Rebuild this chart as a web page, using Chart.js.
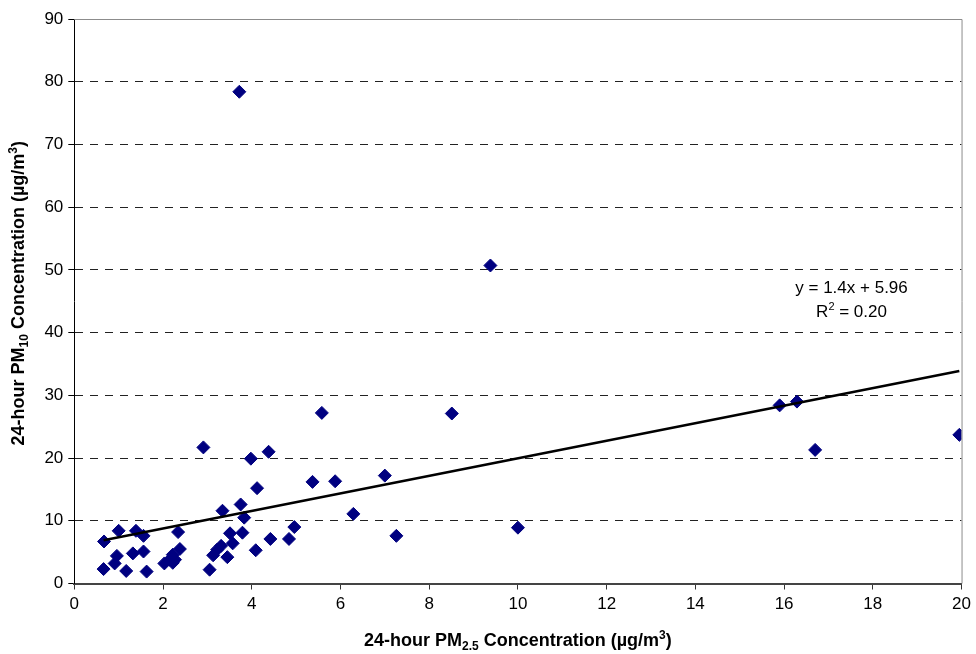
<!DOCTYPE html>
<html>
<head>
<meta charset="utf-8">
<script src="https://cdn.jsdelivr.net/npm/chart.js@4.4.1/dist/chart.umd.min.js"></script>
<style>
  html, body { margin: 0; padding: 0; background: #fff; }
  #c { display: block; }
</style>
</head>
<body>
<canvas id="c" width="976" height="654"></canvas>
<script>
// PM2.5 (x) values, µg/m3
const pm25 = [0.67, 0.66, 0.91, 0.96, 1.0, 1.17, 1.32, 1.39, 1.56, 1.56, 1.63,
  2.03, 2.15, 2.22, 2.22, 2.27, 2.34, 2.38, 2.91, 3.05, 3.13, 3.22, 3.31, 3.34,
  3.45, 3.51, 3.57, 3.72, 3.75, 3.79, 3.83, 3.98, 4.09, 4.12, 4.38, 4.42, 4.84,
  4.96, 5.37, 5.58, 5.88, 6.29, 7.0, 7.26, 8.51, 9.38, 10.0, 15.9, 16.29, 16.7, 19.95];
// PM10 (y) values, µg/m3
const pm10 = [6.7, 2.3, 3.2, 4.4, 8.4, 2.0, 4.8, 8.4, 7.6, 5.1, 1.9,
  3.2, 3.8, 3.3, 4.6, 3.8, 8.2, 5.5, 21.7, 2.2, 4.5, 5.4, 6.0, 11.6,
  4.2, 8.0, 6.4, 78.4, 12.6, 8.1, 10.5, 19.9, 5.3, 15.2, 21.0, 7.1, 7.1,
  9.0, 16.2, 27.2, 16.3, 11.1, 17.2, 7.6, 27.1, 50.7, 8.9, 28.4, 29.0, 21.3, 23.7];
// linear trend: [slope, intercept]
const trend = [1.4, 5.96];
const xTicks = [0, 2, 4, 6, 8, 10, 12, 14, 16, 18, 20];
const yTicks = [0, 10, 20, 30, 40, 50, 60, 70, 80, 90];
const eqLines = ["y = 1.4x + 5.96", "R2 = 0.20"];

const FONT = "'Liberation Sans', Arial, sans-serif";

const points = pm25.map((x, i) => ({ x: x, y: pm10[i] }));
const xMin = Math.min(...pm25), xMax = Math.max(...pm25);
const trendPts = [xMin, xMax].map(x => ({ x: x, y: trend[0] * x + trend[1] }));

function drawRich(ctx, segs, size, bold, cx, cy) {
  // segs: [text, mode] mode: 0 normal, 1 sub, 2 sup
  const w = bold ? 'bold ' : '';
  const small = Math.round(size * 0.65);
  let total = 0;
  segs.forEach(s => {
    ctx.font = w + (s[1] ? small : size) + 'px ' + FONT;
    total += ctx.measureText(s[0]).width;
  });
  let x = cx - total / 2;
  ctx.textBaseline = 'alphabetic';
  ctx.textAlign = 'left';
  const base = cy + size * 0.36;
  segs.forEach(s => {
    ctx.font = w + (s[1] ? small : size) + 'px ' + FONT;
    let dy = 0;
    if (s[1] === 1) dy = size * 0.22;
    if (s[1] === 2) dy = -size * 0.42;
    ctx.fillText(s[0], x, base + dy);
    x += ctx.measureText(s[0]).width;
  });
}

const decor = {
  id: 'decor',
  afterDatasetsDraw(chart) {
    const ctx = chart.ctx, a = chart.chartArea;
    ctx.save();
    // top & right plot-area border
    ctx.strokeStyle = '#8c8c8c';
    ctx.lineWidth = 1;
    ctx.beginPath();
    ctx.moveTo(a.left, a.top + 0.5);
    ctx.lineTo(a.right + 0.5, a.top + 0.5);
    ctx.lineTo(a.right + 0.5, a.bottom);
    ctx.stroke();
    ctx.fillStyle = '#000';
    // equation
    const xs = chart.scales.x, ys = chart.scales.y;
    const ex = xs.getPixelForValue(17.52);
    drawRich(ctx, [[eqLines[0], 0]], 17, false, ex, ys.getPixelForValue(47.3));
    drawRich(ctx, [["R", 0], ["2", 2], [eqLines[1].slice(2), 0]], 17, false, ex, ys.getPixelForValue(43.4));
    ctx.restore();
  },
  afterDraw(chart) {
    const ctx = chart.ctx, a = chart.chartArea;
    ctx.save();
    ctx.fillStyle = '#000';
    // x-axis title
    drawRich(ctx, [["24-hour PM", 0], ["2.5", 1], [" Concentration (\u00b5g/m", 0], ["3", 2], [")", 0]],
      18, true, (a.left + a.right) / 2, 640);
    // y-axis title
    ctx.translate(18, (a.top + a.bottom) / 2 - 8);
    ctx.rotate(-Math.PI / 2);
    drawRich(ctx, [["24-hour PM", 0], ["10", 1], [" Concentration (\u00b5g/m", 0], ["3", 2], [")", 0]],
      18, true, 0, 0);
    ctx.restore();
  }
};

new Chart(document.getElementById('c'), {
  data: {
    datasets: [
      {
        type: 'line',
        data: trendPts,
        borderColor: '#000',
        borderWidth: 2.5,
        pointRadius: 0,
        fill: false,
        tension: 0
      },
      {
        type: 'scatter',
        data: points,
        backgroundColor: '#000080',
        borderColor: '#000080',
        borderWidth: 1,
        pointStyle: 'rectRot',
        pointRadius: 6.5,
        pointHoverRadius: 6.5
      }
    ]
  },
  options: {
    responsive: false,
    devicePixelRatio: 1,
    animation: false,
    events: [],
    layout: { padding: { top: 19, right: 10, left: 0, bottom: 0 } },
    plugins: { legend: { display: false }, tooltip: { enabled: false }, title: { display: false } },
    scales: {
      x: {
        type: 'linear',
        min: 0, max: 20,
        afterBuildTicks: s => { s.ticks = xTicks.map(v => ({ value: v })); },
        afterFit: s => { s.height = 70.5; },
        ticks: { font: { family: FONT, size: 17 }, color: '#000', padding: 5, maxRotation: 0 },
        grid: { drawOnChartArea: false, drawTicks: true, tickLength: 6, tickColor: '#333', tickWidth: 1 },
        border: { color: '#444', width: 2 }
      },
      y: {
        type: 'linear',
        min: 0, max: 90,
        afterBuildTicks: s => { s.ticks = yTicks.map(v => ({ value: v })); },
        afterFit: s => { s.width = 74.3; },
        ticks: { font: { family: FONT, size: 17 }, color: '#000', padding: 5 },
        grid: {
          color: c => (c.tick && (c.tick.value === 0 || c.tick.value === 90)) ? 'rgba(0,0,0,0)' : '#222',
          lineWidth: 1,
          tickBorderDash: [],
          tickColor: '#000',
          tickLength: 6
        },
        border: { color: '#000', width: 1, dash: [8, 7] }
      }
    }
  },
  plugins: [decor]
});
</script>
</body>
</html>
